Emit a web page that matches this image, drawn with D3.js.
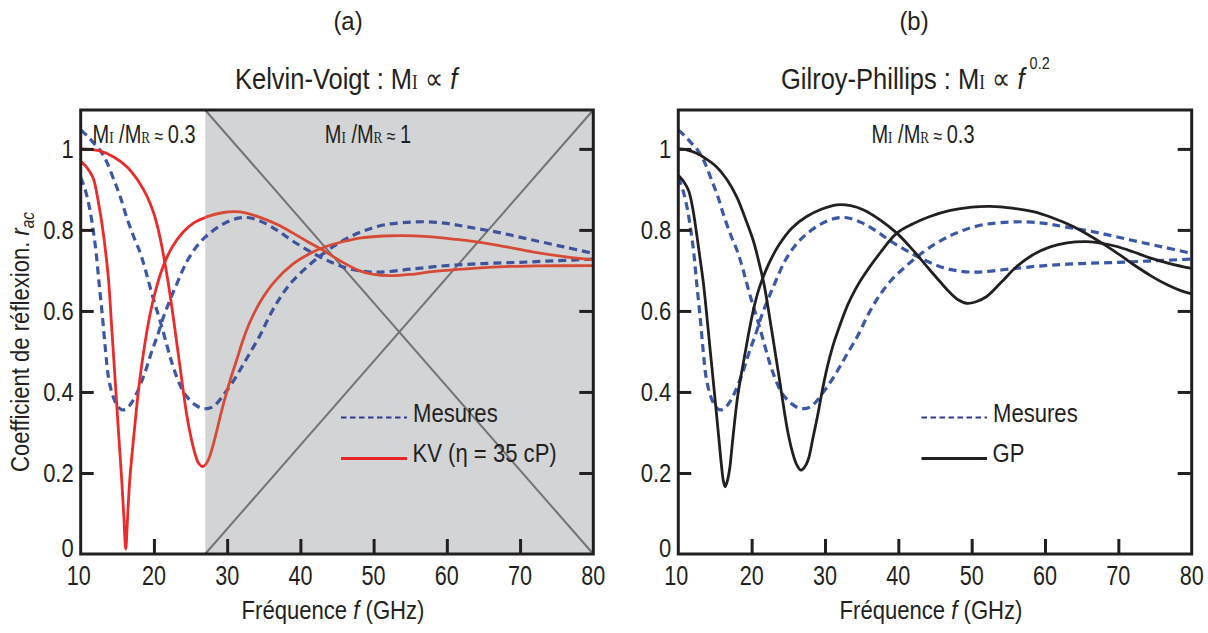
<!DOCTYPE html>
<html><head><meta charset="utf-8">
<script src="https://cdn.jsdelivr.net/npm/d3@7"></script>
<style>html,body{margin:0;padding:0;background:#fff;} svg{display:block;background:#fff;}</style>
</head><body><svg id="chart" width="1208" height="633"></svg>
<script>
// ---------- data ----------
const xTicks = [10, 20, 30, 40, 50, 60, 70, 80];
const xTickLabels = ["10", "20", "30", "40", "50", "60", "70", "80"];
const yTicks = [0, 0.2, 0.4, 0.6, 0.8, 1];
const yTickLabels = ["0", "0.2", "0.4", "0.6", "0.8", "1"];
const xDomain = [10, 80];
const yDomain = [0, 1.096];
const shadeStart = 27.0; // start of the M_I/M_R ≈ 1 region (GHz)

// measured curves (blue dashed), same in both panels
const mesuresA = [[10,0.93],[10.6,0.9],[11.2,0.855],[11.7,0.80],[12.1,0.745],[12.5,0.67],[13.0,0.58],[13.4,0.5],[13.8,0.435],[14.4,0.39],[15,0.366],[15.6,0.356],[16.2,0.358],[16.9,0.372],[17.6,0.395],[18.3,0.425],[19.0,0.46],[19.7,0.5],[20.5,0.54],[21.3,0.585],[22.2,0.627],[23.2,0.67],[24.5,0.722],[26,0.763],[27.5,0.79],[29.5,0.815],[31.5,0.829],[33,0.83],[35,0.818],[37,0.797],[39,0.772],[41.5,0.745],[44,0.722],[46.3,0.706],[48.5,0.698],[51,0.696],[55,0.703],[60,0.712],[65,0.717],[70,0.72],[75,0.724],[80,0.728]];
const mesuresB = [[10,1.047],[11,1.03],[12,1.01],[12.6,0.998],[13.5,0.97],[14.5,0.925],[15.4,0.882],[16.3,0.83],[17.2,0.785],[18.1,0.745],[18.7,0.71],[19.2,0.677],[20,0.625],[20.8,0.578],[21.7,0.52],[22.4,0.475],[23.1,0.438],[23.8,0.408],[24.5,0.388],[25.5,0.37],[26.5,0.36],[27.3,0.359],[28.1,0.364],[28.8,0.376],[29.5,0.393],[30.4,0.415],[31.3,0.44],[32.2,0.468],[33.1,0.496],[34.5,0.54],[36,0.595],[37.5,0.64],[39,0.675],[41,0.71],[43,0.74],[45,0.765],[47,0.785],[49,0.8],[51.3,0.812],[54,0.818],[57.2,0.82],[60,0.816],[62.6,0.808],[67,0.794],[71.7,0.775],[76,0.758],[80,0.742]];

// Kelvin-Voigt model (red)
const kvA = [[10,0.969],[10.8,0.955],[11.7,0.928],[12.4,0.87],[13.1,0.79],[13.5,0.73],[13.8,0.677],[14.25,0.555],[14.7,0.43],[15.15,0.305],[15.6,0.183],[15.9,0.09],[16.15,0.012],[16.4,0.09],[16.7,0.183],[17.3,0.30],[17.9,0.405],[18.6,0.5],[19.45,0.59],[20.3,0.655],[21.3,0.712],[22.5,0.758],[24,0.795],[25.5,0.818],[27.5,0.834],[29.5,0.843],[31,0.845],[32.5,0.842],[34.5,0.831],[37,0.812],[39,0.792],[41,0.771],[43.1,0.75],[45.5,0.723],[48.1,0.699],[50,0.69],[52.2,0.687],[55,0.69],[58,0.697],[62,0.703],[67,0.709],[72,0.711],[80,0.712]];
const kvB = [[10,1.0],[11.2,0.999],[12.6,0.995],[14.5,0.98],[16.3,0.956],[17.7,0.925],[19,0.885],[20,0.84],[20.6,0.80],[21.2,0.748],[21.9,0.675],[22.6,0.59],[23.2,0.51],[23.8,0.43],[24.45,0.347],[25,0.293],[25.6,0.248],[26.1,0.224],[26.6,0.216],[27.1,0.222],[27.6,0.24],[28.1,0.27],[28.5,0.298],[29.2,0.35],[29.9,0.397],[30.6,0.44],[31.3,0.479],[32.2,0.53],[33.1,0.572],[34.5,0.622],[36.5,0.673],[39,0.716],[41.3,0.742],[43.5,0.759],[46,0.772],[48.1,0.78],[51.3,0.785],[54,0.786],[57,0.784],[60,0.779],[62.6,0.774],[67,0.762],[71.7,0.746],[76,0.734],[80,0.726]];

// Gilroy-Phillips model (black)
const gpA = [[10,0.935],[10.7,0.92],[11.4,0.897],[12,0.85],[12.5,0.79],[13,0.725],[13.4,0.672],[13.7,0.622],[14.3,0.512],[14.75,0.43],[15.2,0.347],[15.6,0.272],[15.9,0.216],[16.15,0.18],[16.4,0.166],[16.65,0.178],[17,0.21],[17.35,0.27],[17.7,0.33],[18.1,0.39],[18.6,0.445],[19.2,0.505],[19.7,0.555],[20.4,0.615],[21.1,0.66],[22.3,0.715],[23.8,0.765],[25.5,0.805],[27.5,0.833],[29.5,0.851],[31.6,0.862],[33.5,0.86],[35.2,0.85],[37.5,0.825],[39.8,0.792],[42,0.75],[44.3,0.701],[45.7,0.672],[47.1,0.644],[48.2,0.627],[49.3,0.619],[50.5,0.622],[52,0.635],[54,0.67],[56.1,0.709],[58.3,0.738],[60.7,0.758],[63,0.768],[65.7,0.771],[67.8,0.767],[69.8,0.759],[72,0.746],[74.3,0.731],[77,0.717],[80,0.705]];
const gpB = [[10,1.0],[11,0.998],[12.5,0.989],[13.8,0.975],[15.2,0.956],[16.6,0.925],[17.95,0.882],[19.1,0.83],[20.2,0.775],[21,0.72],[21.7,0.665],[22.4,0.59],[23.1,0.51],[23.8,0.43],[24.5,0.347],[25,0.295],[25.6,0.249],[26.1,0.222],[26.7,0.207],[27.2,0.214],[27.7,0.232],[28.4,0.29],[29.05,0.347],[29.7,0.41],[30.4,0.468],[31.1,0.515],[31.8,0.553],[33.1,0.615],[34.2,0.655],[35.2,0.685],[37.5,0.743],[39.8,0.792],[42,0.815],[44.3,0.833],[47.1,0.848],[50,0.856],[52.5,0.858],[55.5,0.854],[58.4,0.845],[61,0.83],[63.9,0.808],[66,0.787],[68.4,0.76],[70.3,0.737],[72.1,0.714],[74.5,0.686],[76.6,0.665],[78.5,0.65],[80,0.642]];

// ---------- drawing ----------
const FONT = "'Liberation Sans', Arial, Helvetica, sans-serif";
const SERIF = "'Liberation Serif', 'Times New Roman', serif";
const INK = "#231f20";
const svg = d3.select("#chart");
const defs = svg.append("defs");

function txt(parent, x, y, size, sx, anchor, rotate) {
  const tr = `translate(${x},${y})` + (rotate ? ` rotate(${rotate})` : "") + ` scale(${sx},1)`;
  return parent.append("text").attr("transform", tr)
    .attr("font-family", FONT).attr("font-size", size)
    .attr("text-anchor", anchor).attr("fill", INK);
}
function ratioLabel(t, size, tail) {
  t.append("tspan").text("M");
  t.append("tspan").attr("font-family", SERIF).attr("font-size", size * 0.66).text("I");
  t.append("tspan").text(" /M");
  t.append("tspan").attr("font-family", SERIF).attr("font-size", size * 0.66).text("R");
  t.append("tspan").attr("font-size", size * 0.8).text(" \u2248 ");
  t.append("tspan").text(tail);
}

const TOP = 110, BOTTOM = 554;
const panels = [
  { key: "a", left: 80.7, right: 593.3 },
  { key: "b", left: 678.3, right: 1191.7 }
];

panels.forEach(p => {
  const x = d3.scaleLinear().domain(xDomain).range([p.left, p.right]);
  const y = d3.scaleLinear().domain(yDomain).range([BOTTOM, TOP]);
  const g = svg.append("g");
  const line = d3.line().x(d => x(d[0])).y(d => y(d[1])).curve(d3.curveCatmullRom.alpha(0.5));

  const clipAll = `clip-${p.key}-all`;
  defs.append("clipPath").attr("id", clipAll).append("rect")
    .attr("x", p.left).attr("y", TOP).attr("width", p.right - p.left).attr("height", BOTTOM - TOP);

  if (p.key === "a") {
    const xs = x(shadeStart);
    defs.append("clipPath").attr("id", "clip-a-white").append("rect")
      .attr("x", p.left).attr("y", TOP).attr("width", xs - p.left).attr("height", BOTTOM - TOP);
    defs.append("clipPath").attr("id", "clip-a-gray").append("rect")
      .attr("x", xs).attr("y", TOP).attr("width", p.right - xs).attr("height", BOTTOM - TOP);

    g.append("rect").attr("x", xs).attr("y", y(yDomain[1])).attr("width", x(xDomain[1]) - xs)
      .attr("height", y(0) - y(yDomain[1])).attr("fill", "#d3d4d6");
    const diag1 = [[shadeStart, yDomain[1]], [xDomain[1], 0]];
    const diag2 = [[shadeStart, 0], [xDomain[1], yDomain[1]]];
    const straight = d3.line().x(d => x(d[0])).y(d => y(d[1]));
    [diag1, diag2].forEach(dg => g.append("path").attr("d", straight(dg))
      .attr("fill", "none").attr("stroke", "#727375").attr("stroke-width", 2));

    const layers = [
      { clip: "clip-a-white", blue: "#3b58a8", red: "#ec2a29" },
      { clip: "clip-a-gray", blue: "#3f539c", red: "#d64a36" }
    ];
    layers.forEach(L => {
      const lg = g.append("g").attr("clip-path", `url(#${L.clip})`);
      [mesuresA, mesuresB].forEach(s => lg.append("path").attr("d", line(s)).attr("fill", "none")
        .attr("stroke", L.blue).attr("stroke-width", 3.2).attr("stroke-dasharray", "8,5"));
      [kvA, kvB].forEach(s => lg.append("path").attr("d", line(s)).attr("fill", "none")
        .attr("stroke", L.red).attr("stroke-width", 2.8));
    });
  } else {
    const lg = g.append("g").attr("clip-path", `url(#${clipAll})`);
    [mesuresA, mesuresB].forEach(s => lg.append("path").attr("d", line(s)).attr("fill", "none")
      .attr("stroke", "#3b58a8").attr("stroke-width", 3.2).attr("stroke-dasharray", "8,5"));
    [gpA, gpB].forEach(s => lg.append("path").attr("d", line(s)).attr("fill", "none")
      .attr("stroke", INK).attr("stroke-width", 2.8));
  }

  // ticks (inward)
  const styleAxis = a => { a.select(".domain").remove(); a.selectAll("line").attr("stroke", INK).attr("stroke-width", 3); };
  g.append("g").attr("transform", `translate(${p.left},0)`)
    .call(d3.axisLeft(y).tickValues(yTicks.slice(1)).tickSize(-13).tickFormat("")).call(styleAxis);
  g.append("g").attr("transform", `translate(${p.right},0)`)
    .call(d3.axisRight(y).tickValues(yTicks.slice(1)).tickSize(-14).tickFormat("")).call(styleAxis);
  g.append("g").attr("transform", `translate(0,${BOTTOM})`)
    .call(d3.axisBottom(x).tickValues(xTicks.slice(1, -1)).tickSize(-15).tickFormat("")).call(styleAxis);

  // frame
  g.append("rect").attr("x", p.left).attr("y", TOP).attr("width", p.right - p.left).attr("height", BOTTOM - TOP)
    .attr("fill", "none").attr("stroke", INK).attr("stroke-width", 3);

  // tick labels
  xTicks.forEach((v, i) => txt(g, x(v) - (i === 0 ? 2 : 0), 585, 27, 0.8, "middle").text(xTickLabels[i]));
  yTicks.forEach((v, i) => txt(g, p.left - 7, y(v) + (i === 0 ? 3 : 9), 25, 0.88, "end").text(yTickLabels[i]));

  // x axis title
  const xt = txt(g, (p.left + p.right) / 2 - 4, 619, 26, 0.85, "middle");
  xt.append("tspan").text("Fréquence ");
  xt.append("tspan").attr("font-style", "italic").text("f");
  xt.append("tspan").text(" (GHz)");

  // legend
  const lx0 = p.key === "a" ? 341 : 921.5, lx1 = p.key === "a" ? 407 : 987;
  const ly1 = 417.5, ly2 = 458.5;
  g.append("line").attr("x1", lx0).attr("x2", lx1).attr("y1", ly1).attr("y2", ly1)
    .attr("stroke", "#2e3a8e").attr("stroke-width", 2).attr("stroke-dasharray", "5.5,3.5");
  g.append("line").attr("x1", lx0).attr("x2", lx1).attr("y1", ly2).attr("y2", ly2)
    .attr("stroke", p.key === "a" ? "#e8262a" : INK).attr("stroke-width", 3);
  txt(g, lx1 + 6, 422, 26, 0.85, "start").text("Mesures");
  txt(g, lx1 + 5.5, 462, 26, 0.85, "start").text(p.key === "a" ? "KV (\u03B7 = 35 cP)" : "GP");

  // annotations
  if (p.key === "a") {
    ratioLabel(txt(g, 92.5, 143, 25, 0.8, "start"), 25, "0.3");
    ratioLabel(txt(g, 368, 143, 25, 0.8, "middle"), 25, "1");
  } else {
    ratioLabel(txt(g, 923, 143, 25, 0.8, "middle"), 25, "0.3");
  }
});

// panel letters
txt(svg, 348, 30, 26, 0.92, "middle").text("(a)");
txt(svg, 914, 30, 26, 0.92, "middle").text("(b)");

// titles
const t1 = txt(svg, 235, 89, 30, 0.85, "start");
t1.append("tspan").text("Kelvin-Voigt : M");
t1.append("tspan").attr("font-family", SERIF).attr("font-size", 20).text("I");
t1.append("tspan").attr("font-size", 30).text(" \u221D ");
t1.append("tspan").attr("font-style", "italic").text("f");

const t2 = txt(svg, 781, 89, 30, 0.85, "start");
t2.append("tspan").text("Gilroy-Phillips : M");
t2.append("tspan").attr("font-family", SERIF).attr("font-size", 20).text("I");
t2.append("tspan").attr("font-size", 30).text(" \u221D ");
t2.append("tspan").attr("font-style", "italic").text("f");
t2.append("tspan").attr("font-size", 17).attr("dx", 6).attr("dy", -20).text("0.2");

// y axis title
const yt = txt(svg, 29, 342, 26, 0.85, "middle", -90);
yt.append("tspan").text("Coefficient de réflexion. ");
yt.append("tspan").attr("font-style", "italic").text("r");
yt.append("tspan").attr("font-style", "italic").attr("font-size", 18).attr("dy", 5).text("ac");
</script>
</body></html>
